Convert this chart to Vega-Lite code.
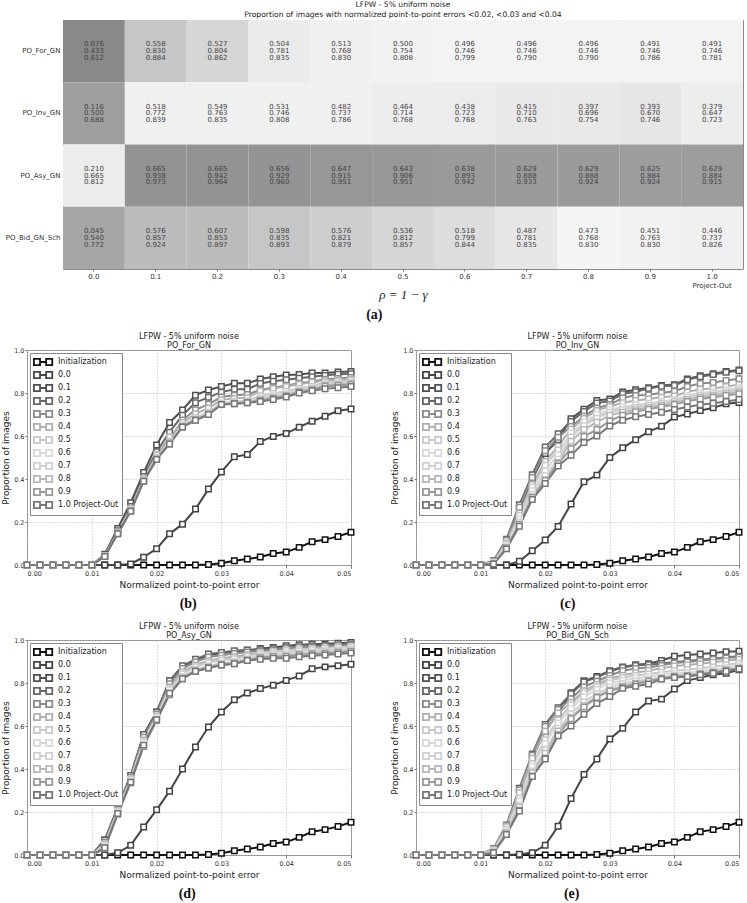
{
  "$schema": "https://vega.github.io/schema/vega-lite/v6.json",
  "background": "white",
  "padding": {"left": 1, "top": 0, "right": 1, "bottom": 0},
  "config": {
    "font": "DejaVu Sans",
    "view": {"stroke": "#8a8a8a", "strokeWidth": 1},
    "axis": {"domain": false, "tickColor": "#777", "tickSize": 3, "labelColor": "#333", "labelFontSize": 6.5, "titleFontWeight": "normal", "titleColor": "#222", "titleFontSize": 9, "labelPadding": 2},
    "title": {"fontWeight": "normal", "fontSize": 8, "color": "#222"},
    "legend": {"orient": "top-left", "offset": 3, "padding": 3, "strokeColor": "#888", "fillColor": "white", "labelFontSize": 8, "labelColor": "#222", "symbolType": "M-1,-0.6H0.2V0.6H-1ZM1.4,-0.6H2.6V0.6H1.4ZM0.2,0H1.4", "symbolSize": 104, "symbolStrokeWidth": 1.8, "symbolFillColor": "white", "rowPadding": -3, "labelOffset": 13, "title": null}
  },
  "datasets": {
    "heat": [
      {"m": "PO_For_GN", "rho": "0.0", "a": 0.076, "b": 0.433, "c": 0.612, "level": 0.91},
      {"m": "PO_For_GN", "rho": "0.1", "a": 0.558, "b": 0.830, "c": 0.884, "level": 0.39},
      {"m": "PO_For_GN", "rho": "0.2", "a": 0.527, "b": 0.804, "c": 0.862, "level": 0.26},
      {"m": "PO_For_GN", "rho": "0.3", "a": 0.504, "b": 0.781, "c": 0.835, "level": 0.09},
      {"m": "PO_For_GN", "rho": "0.4", "a": 0.513, "b": 0.768, "c": 0.830, "level": 0.05},
      {"m": "PO_For_GN", "rho": "0.5", "a": 0.500, "b": 0.754, "c": 0.808, "level": 0.03},
      {"m": "PO_For_GN", "rho": "0.6", "a": 0.496, "b": 0.746, "c": 0.799, "level": 0.02},
      {"m": "PO_For_GN", "rho": "0.7", "a": 0.496, "b": 0.746, "c": 0.790, "level": 0.02},
      {"m": "PO_For_GN", "rho": "0.8", "a": 0.496, "b": 0.746, "c": 0.790, "level": 0.02},
      {"m": "PO_For_GN", "rho": "0.9", "a": 0.491, "b": 0.746, "c": 0.786, "level": 0.02},
      {"m": "PO_For_GN", "rho": "1.0", "a": 0.491, "b": 0.746, "c": 0.781, "level": 0.02},
      {"m": "PO_Inv_GN", "rho": "0.0", "a": 0.116, "b": 0.500, "c": 0.688, "level": 0.72},
      {"m": "PO_Inv_GN", "rho": "0.1", "a": 0.518, "b": 0.772, "c": 0.839, "level": 0.05},
      {"m": "PO_Inv_GN", "rho": "0.2", "a": 0.549, "b": 0.763, "c": 0.835, "level": 0.05},
      {"m": "PO_Inv_GN", "rho": "0.3", "a": 0.531, "b": 0.746, "c": 0.808, "level": 0.05},
      {"m": "PO_Inv_GN", "rho": "0.4", "a": 0.482, "b": 0.737, "c": 0.786, "level": 0.05},
      {"m": "PO_Inv_GN", "rho": "0.5", "a": 0.464, "b": 0.714, "c": 0.768, "level": 0.07},
      {"m": "PO_Inv_GN", "rho": "0.6", "a": 0.438, "b": 0.723, "c": 0.768, "level": 0.08},
      {"m": "PO_Inv_GN", "rho": "0.7", "a": 0.415, "b": 0.710, "c": 0.763, "level": 0.10},
      {"m": "PO_Inv_GN", "rho": "0.8", "a": 0.397, "b": 0.696, "c": 0.754, "level": 0.10},
      {"m": "PO_Inv_GN", "rho": "0.9", "a": 0.393, "b": 0.670, "c": 0.746, "level": 0.13},
      {"m": "PO_Inv_GN", "rho": "1.0", "a": 0.379, "b": 0.647, "c": 0.723, "level": 0.07},
      {"m": "PO_Asy_GN", "rho": "0.0", "a": 0.210, "b": 0.665, "c": 0.812, "level": 0.08},
      {"m": "PO_Asy_GN", "rho": "0.1", "a": 0.665, "b": 0.938, "c": 0.973, "level": 0.82},
      {"m": "PO_Asy_GN", "rho": "0.2", "a": 0.665, "b": 0.942, "c": 0.964, "level": 0.82},
      {"m": "PO_Asy_GN", "rho": "0.3", "a": 0.656, "b": 0.929, "c": 0.960, "level": 0.81},
      {"m": "PO_Asy_GN", "rho": "0.4", "a": 0.647, "b": 0.915, "c": 0.951, "level": 0.79},
      {"m": "PO_Asy_GN", "rho": "0.5", "a": 0.643, "b": 0.906, "c": 0.951, "level": 0.78},
      {"m": "PO_Asy_GN", "rho": "0.6", "a": 0.638, "b": 0.893, "c": 0.942, "level": 0.76},
      {"m": "PO_Asy_GN", "rho": "0.7", "a": 0.629, "b": 0.888, "c": 0.933, "level": 0.75},
      {"m": "PO_Asy_GN", "rho": "0.8", "a": 0.629, "b": 0.888, "c": 0.924, "level": 0.75},
      {"m": "PO_Asy_GN", "rho": "0.9", "a": 0.625, "b": 0.884, "c": 0.924, "level": 0.74},
      {"m": "PO_Asy_GN", "rho": "1.0", "a": 0.629, "b": 0.884, "c": 0.915, "level": 0.74},
      {"m": "PO_Bid_GN_Sch", "rho": "0.0", "a": 0.045, "b": 0.540, "c": 0.772, "level": 0.66},
      {"m": "PO_Bid_GN_Sch", "rho": "0.1", "a": 0.576, "b": 0.857, "c": 0.924, "level": 0.47},
      {"m": "PO_Bid_GN_Sch", "rho": "0.2", "a": 0.607, "b": 0.853, "c": 0.897, "level": 0.47},
      {"m": "PO_Bid_GN_Sch", "rho": "0.3", "a": 0.598, "b": 0.835, "c": 0.893, "level": 0.39},
      {"m": "PO_Bid_GN_Sch", "rho": "0.4", "a": 0.576, "b": 0.821, "c": 0.879, "level": 0.32},
      {"m": "PO_Bid_GN_Sch", "rho": "0.5", "a": 0.536, "b": 0.812, "c": 0.857, "level": 0.26},
      {"m": "PO_Bid_GN_Sch", "rho": "0.6", "a": 0.518, "b": 0.799, "c": 0.844, "level": 0.20},
      {"m": "PO_Bid_GN_Sch", "rho": "0.7", "a": 0.487, "b": 0.781, "c": 0.835, "level": 0.12},
      {"m": "PO_Bid_GN_Sch", "rho": "0.8", "a": 0.473, "b": 0.768, "c": 0.830, "level": 0.01},
      {"m": "PO_Bid_GN_Sch", "rho": "0.9", "a": 0.451, "b": 0.763, "c": 0.830, "level": 0.03},
      {"m": "PO_Bid_GN_Sch", "rho": "1.0", "a": 0.446, "b": 0.737, "c": 0.826, "level": 0.05}
    ],
    "pb": [
      {"x": 0.000, "I": 0, "r00": 0, "r01": 0, "r02": 0, "r03": 0, "r04": 0, "r05": 0, "r06": 0, "r07": 0, "r08": 0, "r09": 0, "r10": 0},
      {"x": 0.002, "I": 0, "r00": 0, "r01": 0, "r02": 0, "r03": 0, "r04": 0, "r05": 0, "r06": 0, "r07": 0, "r08": 0, "r09": 0, "r10": 0},
      {"x": 0.004, "I": 0, "r00": 0, "r01": 0, "r02": 0, "r03": 0, "r04": 0, "r05": 0, "r06": 0, "r07": 0, "r08": 0, "r09": 0, "r10": 0},
      {"x": 0.006, "I": 0, "r00": 0, "r01": 0, "r02": 0, "r03": 0, "r04": 0, "r05": 0, "r06": 0, "r07": 0, "r08": 0, "r09": 0, "r10": 0},
      {"x": 0.008, "I": 0, "r00": 0, "r01": 0, "r02": 0, "r03": 0, "r04": 0, "r05": 0, "r06": 0, "r07": 0, "r08": 0, "r09": 0, "r10": 0},
      {"x": 0.010, "I": 0, "r00": 0, "r01": 0, "r02": 0, "r03": 0, "r04": 0, "r05": 0, "r06": 0, "r07": 0, "r08": 0, "r09": 0, "r10": 0},
      {"x": 0.012, "I": 0, "r00": 0, "r01": 0.05, "r02": 0.046, "r03": 0.042, "r04": 0.043, "r05": 0.041, "r06": 0.041, "r07": 0.041, "r08": 0.041, "r09": 0.04, "r10": 0.04},
      {"x": 0.014, "I": 0, "r00": 0, "r01": 0.17, "r02": 0.159, "r03": 0.15, "r04": 0.153, "r05": 0.148, "r06": 0.147, "r07": 0.147, "r08": 0.147, "r09": 0.145, "r10": 0.145},
      {"x": 0.016, "I": 0, "r00": 0.005, "r01": 0.29, "r02": 0.272, "r03": 0.258, "r04": 0.263, "r05": 0.255, "r06": 0.253, "r07": 0.253, "r08": 0.253, "r09": 0.25, "r10": 0.25},
      {"x": 0.018, "I": 0, "r00": 0.036, "r01": 0.43, "r02": 0.412, "r03": 0.398, "r04": 0.403, "r05": 0.395, "r06": 0.393, "r07": 0.393, "r08": 0.393, "r09": 0.39, "r10": 0.39},
      {"x": 0.020, "I": 0, "r00": 0.076, "r01": 0.558, "r02": 0.527, "r03": 0.504, "r04": 0.513, "r05": 0.5, "r06": 0.496, "r07": 0.496, "r08": 0.496, "r09": 0.491, "r10": 0.491},
      {"x": 0.022, "I": 0, "r00": 0.145, "r01": 0.663, "r02": 0.618, "r03": 0.583, "r04": 0.596, "r05": 0.576, "r06": 0.57, "r07": 0.57, "r08": 0.57, "r09": 0.563, "r10": 0.563},
      {"x": 0.024, "I": 0, "r00": 0.19, "r01": 0.721, "r02": 0.697, "r03": 0.675, "r04": 0.663, "r05": 0.65, "r06": 0.645, "r07": 0.645, "r08": 0.645, "r09": 0.642, "r10": 0.642},
      {"x": 0.026, "I": 0, "r00": 0.26, "r01": 0.79, "r02": 0.755, "r03": 0.722, "r04": 0.703, "r05": 0.685, "r06": 0.677, "r07": 0.677, "r08": 0.677, "r09": 0.673, "r10": 0.673},
      {"x": 0.028, "I": 0.002, "r00": 0.353, "r01": 0.814, "r02": 0.78, "r03": 0.748, "r04": 0.73, "r05": 0.711, "r06": 0.703, "r07": 0.703, "r08": 0.703, "r09": 0.7, "r10": 0.7},
      {"x": 0.030, "I": 0.008, "r00": 0.433, "r01": 0.83, "r02": 0.804, "r03": 0.781, "r04": 0.768, "r05": 0.754, "r06": 0.746, "r07": 0.746, "r08": 0.746, "r09": 0.746, "r10": 0.746},
      {"x": 0.032, "I": 0.02, "r00": 0.503, "r01": 0.845, "r02": 0.817, "r03": 0.79, "r04": 0.775, "r05": 0.76, "r06": 0.752, "r07": 0.752, "r08": 0.752, "r09": 0.75, "r10": 0.75},
      {"x": 0.034, "I": 0.028, "r00": 0.514, "r01": 0.845, "r02": 0.818, "r03": 0.793, "r04": 0.778, "r05": 0.764, "r06": 0.757, "r07": 0.757, "r08": 0.757, "r09": 0.755, "r10": 0.755},
      {"x": 0.036, "I": 0.037, "r00": 0.574, "r01": 0.865, "r02": 0.844, "r03": 0.815, "r04": 0.81, "r05": 0.787, "r06": 0.778, "r07": 0.769, "r08": 0.769, "r09": 0.765, "r10": 0.76},
      {"x": 0.038, "I": 0.053, "r00": 0.598, "r01": 0.876, "r02": 0.855, "r03": 0.825, "r04": 0.821, "r05": 0.798, "r06": 0.788, "r07": 0.78, "r08": 0.78, "r09": 0.775, "r10": 0.77},
      {"x": 0.040, "I": 0.06, "r00": 0.612, "r01": 0.884, "r02": 0.862, "r03": 0.835, "r04": 0.83, "r05": 0.808, "r06": 0.799, "r07": 0.79, "r08": 0.79, "r09": 0.786, "r10": 0.781},
      {"x": 0.042, "I": 0.082, "r00": 0.641, "r01": 0.886, "r02": 0.869, "r03": 0.845, "r04": 0.841, "r05": 0.822, "r06": 0.815, "r07": 0.808, "r08": 0.808, "r09": 0.804, "r10": 0.8},
      {"x": 0.044, "I": 0.108, "r00": 0.669, "r01": 0.893, "r02": 0.876, "r03": 0.853, "r04": 0.85, "r05": 0.832, "r06": 0.824, "r07": 0.817, "r08": 0.817, "r09": 0.814, "r10": 0.81},
      {"x": 0.046, "I": 0.118, "r00": 0.692, "r01": 0.893, "r02": 0.882, "r03": 0.864, "r04": 0.857, "r05": 0.849, "r06": 0.842, "r07": 0.838, "r08": 0.835, "r09": 0.831, "r10": 0.82},
      {"x": 0.048, "I": 0.133, "r00": 0.717, "r01": 0.898, "r02": 0.887, "r03": 0.868, "r04": 0.861, "r05": 0.854, "r06": 0.846, "r07": 0.843, "r08": 0.839, "r09": 0.835, "r10": 0.824},
      {"x": 0.050, "I": 0.152, "r00": 0.726, "r01": 0.9, "r02": 0.89, "r03": 0.872, "r04": 0.865, "r05": 0.858, "r06": 0.851, "r07": 0.848, "r08": 0.844, "r09": 0.84, "r10": 0.83}
    ],
    "pc": [
      {"x": 0.000, "I": 0, "r00": 0, "r01": 0, "r02": 0, "r03": 0, "r04": 0, "r05": 0, "r06": 0, "r07": 0, "r08": 0, "r09": 0, "r10": 0},
      {"x": 0.002, "I": 0, "r00": 0, "r01": 0, "r02": 0, "r03": 0, "r04": 0, "r05": 0, "r06": 0, "r07": 0, "r08": 0, "r09": 0, "r10": 0},
      {"x": 0.004, "I": 0, "r00": 0, "r01": 0, "r02": 0, "r03": 0, "r04": 0, "r05": 0, "r06": 0, "r07": 0, "r08": 0, "r09": 0, "r10": 0},
      {"x": 0.006, "I": 0, "r00": 0, "r01": 0, "r02": 0, "r03": 0, "r04": 0, "r05": 0, "r06": 0, "r07": 0, "r08": 0, "r09": 0, "r10": 0},
      {"x": 0.008, "I": 0, "r00": 0, "r01": 0, "r02": 0, "r03": 0, "r04": 0, "r05": 0, "r06": 0, "r07": 0, "r08": 0, "r09": 0, "r10": 0},
      {"x": 0.010, "I": 0, "r00": 0, "r01": 0, "r02": 0, "r03": 0, "r04": 0, "r05": 0, "r06": 0, "r07": 0, "r08": 0, "r09": 0, "r10": 0},
      {"x": 0.012, "I": 0, "r00": 0, "r01": 0.017, "r02": 0.02, "r03": 0.018, "r04": 0.014, "r05": 0.013, "r06": 0.01, "r07": 0.008, "r08": 0.007, "r09": 0.006, "r10": 0.005},
      {"x": 0.014, "I": 0, "r00": 0, "r01": 0.112, "r02": 0.12, "r03": 0.115, "r04": 0.102, "r05": 0.098, "r06": 0.091, "r07": 0.084, "r08": 0.08, "r09": 0.079, "r10": 0.075},
      {"x": 0.016, "I": 0, "r00": 0.017, "r01": 0.262, "r02": 0.28, "r03": 0.269, "r04": 0.241, "r05": 0.23, "r06": 0.215, "r07": 0.201, "r08": 0.191, "r09": 0.188, "r10": 0.18},
      {"x": 0.018, "I": 0, "r00": 0.066, "r01": 0.399, "r02": 0.42, "r03": 0.407, "r04": 0.375, "r05": 0.363, "r06": 0.345, "r07": 0.329, "r08": 0.318, "r09": 0.314, "r10": 0.305},
      {"x": 0.020, "I": 0, "r00": 0.116, "r01": 0.518, "r02": 0.549, "r03": 0.531, "r04": 0.482, "r05": 0.464, "r06": 0.438, "r07": 0.415, "r08": 0.397, "r09": 0.393, "r10": 0.379},
      {"x": 0.022, "I": 0, "r00": 0.179, "r01": 0.583, "r02": 0.61, "r03": 0.594, "r04": 0.552, "r05": 0.535, "r06": 0.513, "r07": 0.492, "r08": 0.477, "r09": 0.472, "r10": 0.46},
      {"x": 0.024, "I": 0, "r00": 0.284, "r01": 0.68, "r02": 0.668, "r03": 0.644, "r04": 0.632, "r05": 0.602, "r06": 0.614, "r07": 0.595, "r08": 0.576, "r09": 0.541, "r10": 0.51},
      {"x": 0.026, "I": 0, "r00": 0.387, "r01": 0.725, "r02": 0.714, "r03": 0.692, "r04": 0.682, "r05": 0.654, "r06": 0.665, "r07": 0.648, "r08": 0.63, "r09": 0.598, "r10": 0.57},
      {"x": 0.028, "I": 0.002, "r00": 0.418, "r01": 0.765, "r02": 0.753, "r03": 0.73, "r04": 0.719, "r05": 0.689, "r06": 0.701, "r07": 0.683, "r08": 0.664, "r09": 0.63, "r10": 0.6},
      {"x": 0.030, "I": 0.008, "r00": 0.5, "r01": 0.772, "r02": 0.763, "r03": 0.746, "r04": 0.737, "r05": 0.714, "r06": 0.723, "r07": 0.71, "r08": 0.696, "r09": 0.67, "r10": 0.647},
      {"x": 0.032, "I": 0.02, "r00": 0.545, "r01": 0.805, "r02": 0.796, "r03": 0.777, "r04": 0.755, "r05": 0.728, "r06": 0.735, "r07": 0.722, "r08": 0.71, "r09": 0.697, "r10": 0.673},
      {"x": 0.034, "I": 0.028, "r00": 0.583, "r01": 0.815, "r02": 0.806, "r03": 0.789, "r04": 0.765, "r05": 0.74, "r06": 0.745, "r07": 0.733, "r08": 0.722, "r09": 0.713, "r10": 0.69},
      {"x": 0.036, "I": 0.037, "r00": 0.62, "r01": 0.825, "r02": 0.821, "r03": 0.791, "r04": 0.772, "r05": 0.75, "r06": 0.752, "r07": 0.743, "r08": 0.734, "r09": 0.725, "r10": 0.7},
      {"x": 0.038, "I": 0.053, "r00": 0.645, "r01": 0.835, "r02": 0.831, "r03": 0.801, "r04": 0.78, "r05": 0.759, "r06": 0.761, "r07": 0.753, "r08": 0.744, "r09": 0.735, "r10": 0.71},
      {"x": 0.040, "I": 0.06, "r00": 0.688, "r01": 0.839, "r02": 0.835, "r03": 0.808, "r04": 0.786, "r05": 0.768, "r06": 0.768, "r07": 0.763, "r08": 0.754, "r09": 0.746, "r10": 0.723},
      {"x": 0.042, "I": 0.082, "r00": 0.702, "r01": 0.865, "r02": 0.861, "r03": 0.83, "r04": 0.805, "r05": 0.786, "r06": 0.788, "r07": 0.779, "r08": 0.77, "r09": 0.761, "r10": 0.735},
      {"x": 0.044, "I": 0.108, "r00": 0.718, "r01": 0.88, "r02": 0.876, "r03": 0.844, "r04": 0.818, "r05": 0.798, "r06": 0.8, "r07": 0.791, "r08": 0.781, "r09": 0.772, "r10": 0.745},
      {"x": 0.046, "I": 0.118, "r00": 0.731, "r01": 0.89, "r02": 0.886, "r03": 0.849, "r04": 0.821, "r05": 0.804, "r06": 0.806, "r07": 0.798, "r08": 0.788, "r09": 0.78, "r10": 0.752},
      {"x": 0.048, "I": 0.133, "r00": 0.75, "r01": 0.9, "r02": 0.896, "r03": 0.858, "r04": 0.83, "r05": 0.813, "r06": 0.815, "r07": 0.806, "r08": 0.796, "r09": 0.788, "r10": 0.76},
      {"x": 0.050, "I": 0.152, "r00": 0.756, "r01": 0.907, "r02": 0.903, "r03": 0.866, "r04": 0.839, "r05": 0.822, "r06": 0.824, "r07": 0.815, "r08": 0.806, "r09": 0.797, "r10": 0.77}
    ],
    "pd": [
      {"x": 0.000, "I": 0, "r00": 0, "r01": 0, "r02": 0, "r03": 0, "r04": 0, "r05": 0, "r06": 0, "r07": 0, "r08": 0, "r09": 0, "r10": 0},
      {"x": 0.002, "I": 0, "r00": 0, "r01": 0, "r02": 0, "r03": 0, "r04": 0, "r05": 0, "r06": 0, "r07": 0, "r08": 0, "r09": 0, "r10": 0},
      {"x": 0.004, "I": 0, "r00": 0, "r01": 0, "r02": 0, "r03": 0, "r04": 0, "r05": 0, "r06": 0, "r07": 0, "r08": 0, "r09": 0, "r10": 0},
      {"x": 0.006, "I": 0, "r00": 0, "r01": 0, "r02": 0, "r03": 0, "r04": 0, "r05": 0, "r06": 0, "r07": 0, "r08": 0, "r09": 0, "r10": 0},
      {"x": 0.008, "I": 0, "r00": 0, "r01": 0, "r02": 0, "r03": 0, "r04": 0, "r05": 0, "r06": 0, "r07": 0, "r08": 0, "r09": 0, "r10": 0},
      {"x": 0.010, "I": 0, "r00": 0, "r01": 0, "r02": 0, "r03": 0, "r04": 0, "r05": 0, "r06": 0, "r07": 0, "r08": 0, "r09": 0, "r10": 0},
      {"x": 0.012, "I": 0, "r00": 0, "r01": 0.07, "r02": 0.07, "r03": 0.061, "r04": 0.052, "r05": 0.048, "r06": 0.043, "r07": 0.034, "r08": 0.034, "r09": 0.03, "r10": 0.034},
      {"x": 0.014, "I": 0, "r00": 0.01, "r01": 0.22, "r02": 0.22, "r03": 0.213, "r04": 0.207, "r05": 0.204, "r06": 0.2, "r07": 0.193, "r08": 0.193, "r09": 0.19, "r10": 0.193},
      {"x": 0.016, "I": 0, "r00": 0.045, "r01": 0.37, "r02": 0.37, "r03": 0.362, "r04": 0.354, "r05": 0.351, "r06": 0.347, "r07": 0.339, "r08": 0.339, "r09": 0.335, "r10": 0.339},
      {"x": 0.018, "I": 0, "r00": 0.13, "r01": 0.56, "r02": 0.56, "r03": 0.548, "r04": 0.535, "r05": 0.53, "r06": 0.523, "r07": 0.511, "r08": 0.511, "r09": 0.505, "r10": 0.511},
      {"x": 0.020, "I": 0, "r00": 0.21, "r01": 0.665, "r02": 0.665, "r03": 0.656, "r04": 0.647, "r05": 0.643, "r06": 0.638, "r07": 0.629, "r08": 0.629, "r09": 0.625, "r10": 0.629},
      {"x": 0.022, "I": 0, "r00": 0.297, "r01": 0.81, "r02": 0.81, "r03": 0.796, "r04": 0.781, "r05": 0.774, "r06": 0.766, "r07": 0.752, "r08": 0.752, "r09": 0.745, "r10": 0.752},
      {"x": 0.024, "I": 0, "r00": 0.4, "r01": 0.876, "r02": 0.88, "r03": 0.867, "r04": 0.852, "r05": 0.843, "r06": 0.83, "r07": 0.824, "r08": 0.824, "r09": 0.82, "r10": 0.82},
      {"x": 0.026, "I": 0, "r00": 0.502, "r01": 0.906, "r02": 0.91, "r03": 0.898, "r04": 0.884, "r05": 0.876, "r06": 0.864, "r07": 0.859, "r08": 0.859, "r09": 0.855, "r10": 0.855},
      {"x": 0.028, "I": 0.002, "r00": 0.595, "r01": 0.93, "r02": 0.935, "r03": 0.921, "r04": 0.904, "r05": 0.895, "r06": 0.88, "r07": 0.875, "r08": 0.875, "r09": 0.87, "r10": 0.87},
      {"x": 0.030, "I": 0.008, "r00": 0.665, "r01": 0.938, "r02": 0.942, "r03": 0.929, "r04": 0.915, "r05": 0.906, "r06": 0.893, "r07": 0.888, "r08": 0.888, "r09": 0.884, "r10": 0.884},
      {"x": 0.032, "I": 0.02, "r00": 0.722, "r01": 0.946, "r02": 0.95, "r03": 0.937, "r04": 0.922, "r05": 0.913, "r06": 0.9, "r07": 0.894, "r08": 0.894, "r09": 0.89, "r10": 0.89},
      {"x": 0.034, "I": 0.028, "r00": 0.753, "r01": 0.952, "r02": 0.953, "r03": 0.944, "r04": 0.932, "r05": 0.924, "r06": 0.913, "r07": 0.909, "r08": 0.909, "r09": 0.905, "r10": 0.905},
      {"x": 0.036, "I": 0.037, "r00": 0.774, "r01": 0.96, "r02": 0.955, "r03": 0.949, "r04": 0.941, "r05": 0.94, "r06": 0.934, "r07": 0.926, "r08": 0.918, "r09": 0.918, "r10": 0.91},
      {"x": 0.038, "I": 0.053, "r00": 0.79, "r01": 0.965, "r02": 0.959, "r03": 0.954, "r04": 0.946, "r05": 0.945, "r06": 0.939, "r07": 0.931, "r08": 0.923, "r09": 0.923, "r10": 0.915},
      {"x": 0.040, "I": 0.06, "r00": 0.812, "r01": 0.973, "r02": 0.964, "r03": 0.96, "r04": 0.951, "r05": 0.951, "r06": 0.942, "r07": 0.933, "r08": 0.924, "r09": 0.924, "r10": 0.915},
      {"x": 0.042, "I": 0.082, "r00": 0.833, "r01": 0.978, "r02": 0.969, "r03": 0.966, "r04": 0.957, "r05": 0.956, "r06": 0.948, "r07": 0.939, "r08": 0.931, "r09": 0.931, "r10": 0.922},
      {"x": 0.044, "I": 0.108, "r00": 0.866, "r01": 0.98, "r02": 0.972, "r03": 0.968, "r04": 0.96, "r05": 0.959, "r06": 0.952, "r07": 0.943, "r08": 0.935, "r09": 0.935, "r10": 0.927},
      {"x": 0.046, "I": 0.118, "r00": 0.875, "r01": 0.982, "r02": 0.974, "r03": 0.971, "r04": 0.962, "r05": 0.961, "r06": 0.954, "r07": 0.946, "r08": 0.938, "r09": 0.938, "r10": 0.93},
      {"x": 0.048, "I": 0.133, "r00": 0.88, "r01": 0.985, "r02": 0.977, "r03": 0.974, "r04": 0.966, "r05": 0.965, "r06": 0.959, "r07": 0.951, "r08": 0.943, "r09": 0.943, "r10": 0.935},
      {"x": 0.050, "I": 0.152, "r00": 0.887, "r01": 0.988, "r02": 0.98, "r03": 0.977, "r04": 0.97, "r05": 0.969, "r06": 0.963, "r07": 0.955, "r08": 0.948, "r09": 0.948, "r10": 0.94}
    ],
    "pe": [
      {"x": 0.000, "I": 0, "r00": 0, "r01": 0, "r02": 0, "r03": 0, "r04": 0, "r05": 0, "r06": 0, "r07": 0, "r08": 0, "r09": 0, "r10": 0},
      {"x": 0.002, "I": 0, "r00": 0, "r01": 0, "r02": 0, "r03": 0, "r04": 0, "r05": 0, "r06": 0, "r07": 0, "r08": 0, "r09": 0, "r10": 0},
      {"x": 0.004, "I": 0, "r00": 0, "r01": 0, "r02": 0, "r03": 0, "r04": 0, "r05": 0, "r06": 0, "r07": 0, "r08": 0, "r09": 0, "r10": 0},
      {"x": 0.006, "I": 0, "r00": 0, "r01": 0, "r02": 0, "r03": 0, "r04": 0, "r05": 0, "r06": 0, "r07": 0, "r08": 0, "r09": 0, "r10": 0},
      {"x": 0.008, "I": 0, "r00": 0, "r01": 0, "r02": 0, "r03": 0, "r04": 0, "r05": 0, "r06": 0, "r07": 0, "r08": 0, "r09": 0, "r10": 0},
      {"x": 0.010, "I": 0, "r00": 0, "r01": 0, "r02": 0, "r03": 0, "r04": 0, "r05": 0, "r06": 0, "r07": 0, "r08": 0, "r09": 0, "r10": 0},
      {"x": 0.012, "I": 0, "r00": 0, "r01": 0.026, "r02": 0.03, "r03": 0.029, "r04": 0.026, "r05": 0.021, "r06": 0.019, "r07": 0.015, "r08": 0.013, "r09": 0.011, "r10": 0.01},
      {"x": 0.014, "I": 0, "r00": 0, "r01": 0.131, "r02": 0.14, "r03": 0.137, "r04": 0.131, "r05": 0.12, "r06": 0.115, "r07": 0.106, "r08": 0.103, "r09": 0.096, "r10": 0.095},
      {"x": 0.016, "I": 0, "r00": 0.003, "r01": 0.29, "r02": 0.31, "r03": 0.304, "r04": 0.29, "r05": 0.264, "r06": 0.252, "r07": 0.231, "r08": 0.223, "r09": 0.208, "r10": 0.205},
      {"x": 0.018, "I": 0, "r00": 0.01, "r01": 0.45, "r02": 0.47, "r03": 0.464, "r04": 0.45, "r05": 0.424, "r06": 0.412, "r07": 0.391, "r08": 0.383, "r09": 0.368, "r10": 0.365},
      {"x": 0.020, "I": 0, "r00": 0.045, "r01": 0.576, "r02": 0.607, "r03": 0.598, "r04": 0.576, "r05": 0.536, "r06": 0.518, "r07": 0.487, "r08": 0.473, "r09": 0.451, "r10": 0.446},
      {"x": 0.022, "I": 0, "r00": 0.134, "r01": 0.66, "r02": 0.685, "r03": 0.677, "r04": 0.66, "r05": 0.628, "r06": 0.614, "r07": 0.588, "r08": 0.577, "r09": 0.559, "r10": 0.555},
      {"x": 0.024, "I": 0, "r00": 0.263, "r01": 0.755, "r02": 0.75, "r03": 0.727, "r04": 0.709, "r05": 0.698, "r06": 0.681, "r07": 0.657, "r08": 0.64, "r09": 0.634, "r10": 0.6},
      {"x": 0.026, "I": 0, "r00": 0.374, "r01": 0.81, "r02": 0.805, "r03": 0.782, "r04": 0.764, "r05": 0.753, "r06": 0.736, "r07": 0.712, "r08": 0.695, "r09": 0.689, "r10": 0.655},
      {"x": 0.028, "I": 0.002, "r00": 0.447, "r01": 0.83, "r02": 0.826, "r03": 0.808, "r04": 0.793, "r05": 0.784, "r06": 0.77, "r07": 0.751, "r08": 0.738, "r09": 0.733, "r10": 0.705},
      {"x": 0.030, "I": 0.008, "r00": 0.54, "r01": 0.857, "r02": 0.853, "r03": 0.835, "r04": 0.821, "r05": 0.812, "r06": 0.799, "r07": 0.781, "r08": 0.768, "r09": 0.763, "r10": 0.737},
      {"x": 0.032, "I": 0.02, "r00": 0.589, "r01": 0.875, "r02": 0.872, "r03": 0.857, "r04": 0.835, "r05": 0.825, "r06": 0.812, "r07": 0.797, "r08": 0.785, "r09": 0.78, "r10": 0.775},
      {"x": 0.034, "I": 0.028, "r00": 0.665, "r01": 0.885, "r02": 0.882, "r03": 0.867, "r04": 0.848, "r05": 0.835, "r06": 0.822, "r07": 0.808, "r08": 0.798, "r09": 0.795, "r10": 0.785},
      {"x": 0.036, "I": 0.037, "r00": 0.716, "r01": 0.89, "r02": 0.885, "r03": 0.872, "r04": 0.858, "r05": 0.842, "r06": 0.83, "r07": 0.818, "r08": 0.81, "r09": 0.808, "r10": 0.795},
      {"x": 0.038, "I": 0.053, "r00": 0.725, "r01": 0.905, "r02": 0.891, "r03": 0.882, "r04": 0.868, "r05": 0.85, "r06": 0.838, "r07": 0.827, "r08": 0.821, "r09": 0.82, "r10": 0.818},
      {"x": 0.040, "I": 0.06, "r00": 0.772, "r01": 0.924, "r02": 0.897, "r03": 0.893, "r04": 0.879, "r05": 0.857, "r06": 0.844, "r07": 0.835, "r08": 0.83, "r09": 0.83, "r10": 0.826},
      {"x": 0.042, "I": 0.082, "r00": 0.811, "r01": 0.93, "r02": 0.902, "r03": 0.898, "r04": 0.884, "r05": 0.862, "r06": 0.848, "r07": 0.839, "r08": 0.834, "r09": 0.834, "r10": 0.83},
      {"x": 0.044, "I": 0.108, "r00": 0.825, "r01": 0.935, "r02": 0.908, "r03": 0.904, "r04": 0.89, "r05": 0.869, "r06": 0.855, "r07": 0.847, "r08": 0.842, "r09": 0.842, "r10": 0.838},
      {"x": 0.046, "I": 0.118, "r00": 0.838, "r01": 0.94, "r02": 0.913, "r03": 0.91, "r04": 0.896, "r05": 0.875, "r06": 0.862, "r07": 0.854, "r08": 0.849, "r09": 0.849, "r10": 0.845},
      {"x": 0.048, "I": 0.133, "r00": 0.845, "r01": 0.945, "r02": 0.92, "r03": 0.916, "r04": 0.904, "r05": 0.884, "r06": 0.871, "r07": 0.863, "r08": 0.859, "r09": 0.859, "r10": 0.855},
      {"x": 0.050, "I": 0.152, "r00": 0.861, "r01": 0.948, "r02": 0.925, "r03": 0.921, "r04": 0.91, "r05": 0.892, "r06": 0.88, "r07": 0.872, "r08": 0.868, "r09": 0.868, "r10": 0.865}
    ]
  },
  "vconcat": [
    {
      "title": {"text": "(a)", "orient": "bottom", "anchor": "middle", "font": "Liberation Serif", "fontWeight": "bold", "fontSize": 14, "color": "#111", "offset": 6},
      "hconcat": [
        {
          "width": 33,
          "height": 249,
          "view": {"stroke": null},
          "data": {"name": "heat"},
          "mark": {"type": "rect", "opacity": 0},
          "encoding": {
            "y": {"field": "m", "type": "nominal", "sort": ["PO_For_GN", "PO_Inv_GN", "PO_Asy_GN", "PO_Bid_GN_Sch"], "title": null, "axis": {"orient": "right", "labelAlign": "right", "labelPadding": 0, "ticks": false, "labelFontSize": 7, "labelColor": "#333"}}
          }
        },
        {
          "width": 680,
          "height": 249,
          "title": {"text": ["LFPW - 5% uniform noise", "Proportion of images with normalized point-to-point errors <0.02, <0.03 and <0.04"], "fontSize": 7.6, "lineHeight": 10, "offset": 1},
          "data": {"name": "heat"},
          "encoding": {
            "x": {"field": "rho", "type": "ordinal", "title": "ρ = 1 − γ", "axis": {"labelAngle": 0, "labelFontSize": 7, "tickSize": 2, "labelPadding": 1, "labelExpr": "datum.label == '1.0' ? ['1.0', 'Project-Out'] : datum.label", "titleFont": "Liberation Serif", "titleFontStyle": "italic", "titleFontSize": 13, "titlePadding": 0, "titleColor": "#222", "labelLineHeight": 9}},
            "y": {"field": "m", "type": "nominal", "sort": ["PO_For_GN", "PO_Inv_GN", "PO_Asy_GN", "PO_Bid_GN_Sch"], "title": null, "axis": null}
          },
          "layer": [
            {"mark": {"type": "rect"}, "encoding": {"fill": {"field": "level", "type": "quantitative", "scale": {"domain": [0, 1], "range": ["#f6f6f6", "#7f7f7f"]}, "legend": null}}},
            {"mark": {"type": "text", "dy": -6.7, "fontSize": 7, "color": "#444"}, "encoding": {"text": {"field": "a", "type": "quantitative", "format": ".3f"}}},
            {"mark": {"type": "text", "dy": 0, "fontSize": 7, "color": "#444"}, "encoding": {"text": {"field": "b", "type": "quantitative", "format": ".3f"}}},
            {"mark": {"type": "text", "dy": 6.7, "fontSize": 7, "color": "#444"}, "encoding": {"text": {"field": "c", "type": "quantitative", "format": ".3f"}}}
          ]
        }
      ],
      "spacing": 2,
      "resolve": {"scale": {"fill": "independent"}, "legend": {"fill": "independent"}}
    },
    {
      "vconcat": [
        {
          "hconcat": [
            {
              "title": {"text": "(b)", "orient": "bottom", "anchor": "middle", "dx": 9, "font": "Liberation Serif", "fontWeight": "bold", "fontSize": 14, "color": "#111", "offset": 7},
              "vconcat": [
                {
                  "width": 324, "height": 215,
                  "title": {"text": ["LFPW - 5% uniform noise", "PO_For_GN"], "lineHeight": 9, "offset": -3},
                  "data": {"name": "pb"},
                  "transform": [{"fold": ["I", "r00", "r01", "r02", "r03", "r04", "r05", "r06", "r07", "r08", "r09", "r10"], "as": ["s", "y"]}],
                  "mark": {"type": "line", "strokeWidth": 2, "point": {"shape": "square", "filled": false, "fill": "white", "size": 30, "strokeWidth": 1.5}},
                  "encoding": {
                    "x": {"field": "x", "type": "quantitative", "scale": {"domain": [0, 0.05], "nice": false}, "axis": {"values": [0, 0.01, 0.02, 0.03, 0.04, 0.05], "format": ".2f", "title": "Normalized point-to-point error", "grid": true, "gridDash": [1, 2], "gridColor": "#bbb"}},
                    "y": {"field": "y", "type": "quantitative", "scale": {"domain": [0, 1], "nice": false}, "axis": {"values": [0, 0.2, 0.4, 0.6, 0.8, 1.0], "format": ".1f", "title": "Proportion of images", "grid": true, "gridDash": [1, 2], "gridColor": "#bbb", "titlePadding": 3, "labelPadding": 1, "tickSize": 2}},
                    "color": {"field": "s", "type": "nominal", "scale": {"domain": ["I", "r00", "r01", "r02", "r03", "r04", "r05", "r06", "r07", "r08", "r09", "r10"], "range": ["#111111", "#444444", "#505050", "#666666", "#8c8c8c", "#b0b0b0", "#c8c8c8", "#d8d8d8", "#d0d0d0", "#b8b8b8", "#999999", "#777777"]}, "legend": {"labelExpr": "datum.label == 'I' ? 'Initialization' : datum.label == 'r10' ? '1.0 Project-Out' : '0.' + substring(datum.label, 2, 3)"}}
                  }
                }
              ]
            },
            {
              "title": {"text": "(c)", "orient": "bottom", "anchor": "middle", "dx": 0, "font": "Liberation Serif", "fontWeight": "bold", "fontSize": 14, "color": "#111", "offset": 7},
              "vconcat": [
                {
                  "width": 323, "height": 215,
                  "title": {"text": ["LFPW - 5% uniform noise", "PO_Inv_GN"], "lineHeight": 9, "offset": -3},
                  "data": {"name": "pc"},
                  "transform": [{"fold": ["I", "r00", "r01", "r02", "r03", "r04", "r05", "r06", "r07", "r08", "r09", "r10"], "as": ["s", "y"]}],
                  "mark": {"type": "line", "strokeWidth": 2, "point": {"shape": "square", "filled": false, "fill": "white", "size": 30, "strokeWidth": 1.5}},
                  "encoding": {
                    "x": {"field": "x", "type": "quantitative", "scale": {"domain": [0, 0.05], "nice": false}, "axis": {"values": [0, 0.01, 0.02, 0.03, 0.04, 0.05], "format": ".2f", "title": "Normalized point-to-point error", "grid": true, "gridDash": [1, 2], "gridColor": "#bbb"}},
                    "y": {"field": "y", "type": "quantitative", "scale": {"domain": [0, 1], "nice": false}, "axis": {"values": [0, 0.2, 0.4, 0.6, 0.8, 1.0], "format": ".1f", "title": "Proportion of images", "grid": true, "gridDash": [1, 2], "gridColor": "#bbb", "titlePadding": 3, "labelPadding": 1, "tickSize": 2}},
                    "color": {"field": "s", "type": "nominal", "scale": {"domain": ["I", "r00", "r01", "r02", "r03", "r04", "r05", "r06", "r07", "r08", "r09", "r10"], "range": ["#111111", "#444444", "#505050", "#666666", "#8c8c8c", "#b0b0b0", "#c8c8c8", "#d8d8d8", "#d0d0d0", "#b8b8b8", "#999999", "#777777"]}, "legend": {"labelExpr": "datum.label == 'I' ? 'Initialization' : datum.label == 'r10' ? '1.0 Project-Out' : '0.' + substring(datum.label, 2, 3)"}}
                  }
                }
              ]
            }
          ],
          "spacing": 32,
          "resolve": {"scale": {"color": "independent"}, "legend": {"color": "independent"}}
        },
        {
          "hconcat": [
            {
              "title": {"text": "(d)", "orient": "bottom", "anchor": "middle", "dx": 8, "font": "Liberation Serif", "fontWeight": "bold", "fontSize": 14, "color": "#111", "offset": 7},
              "vconcat": [
                {
                  "width": 324, "height": 215,
                  "title": {"text": ["LFPW - 5% uniform noise", "PO_Asy_GN"], "lineHeight": 9, "offset": -3},
                  "data": {"name": "pd"},
                  "transform": [{"fold": ["I", "r00", "r01", "r02", "r03", "r04", "r05", "r06", "r07", "r08", "r09", "r10"], "as": ["s", "y"]}],
                  "mark": {"type": "line", "strokeWidth": 2, "point": {"shape": "square", "filled": false, "fill": "white", "size": 30, "strokeWidth": 1.5}},
                  "encoding": {
                    "x": {"field": "x", "type": "quantitative", "scale": {"domain": [0, 0.05], "nice": false}, "axis": {"values": [0, 0.01, 0.02, 0.03, 0.04, 0.05], "format": ".2f", "title": "Normalized point-to-point error", "grid": true, "gridDash": [1, 2], "gridColor": "#bbb"}},
                    "y": {"field": "y", "type": "quantitative", "scale": {"domain": [0, 1], "nice": false}, "axis": {"values": [0, 0.2, 0.4, 0.6, 0.8, 1.0], "format": ".1f", "title": "Proportion of images", "grid": true, "gridDash": [1, 2], "gridColor": "#bbb", "titlePadding": 3, "labelPadding": 1, "tickSize": 2}},
                    "color": {"field": "s", "type": "nominal", "scale": {"domain": ["I", "r00", "r01", "r02", "r03", "r04", "r05", "r06", "r07", "r08", "r09", "r10"], "range": ["#111111", "#444444", "#505050", "#666666", "#8c8c8c", "#b0b0b0", "#c8c8c8", "#d8d8d8", "#d0d0d0", "#b8b8b8", "#999999", "#777777"]}, "legend": {"labelExpr": "datum.label == 'I' ? 'Initialization' : datum.label == 'r10' ? '1.0 Project-Out' : '0.' + substring(datum.label, 2, 3)"}}
                  }
                }
              ]
            },
            {
              "title": {"text": "(e)", "orient": "bottom", "anchor": "middle", "dx": 4, "font": "Liberation Serif", "fontWeight": "bold", "fontSize": 14, "color": "#111", "offset": 7},
              "vconcat": [
                {
                  "width": 323, "height": 215,
                  "title": {"text": ["LFPW - 5% uniform noise", "PO_Bid_GN_Sch"], "lineHeight": 9, "offset": -3},
                  "data": {"name": "pe"},
                  "transform": [{"fold": ["I", "r00", "r01", "r02", "r03", "r04", "r05", "r06", "r07", "r08", "r09", "r10"], "as": ["s", "y"]}],
                  "mark": {"type": "line", "strokeWidth": 2, "point": {"shape": "square", "filled": false, "fill": "white", "size": 30, "strokeWidth": 1.5}},
                  "encoding": {
                    "x": {"field": "x", "type": "quantitative", "scale": {"domain": [0, 0.05], "nice": false}, "axis": {"values": [0, 0.01, 0.02, 0.03, 0.04, 0.05], "format": ".2f", "title": "Normalized point-to-point error", "grid": true, "gridDash": [1, 2], "gridColor": "#bbb"}},
                    "y": {"field": "y", "type": "quantitative", "scale": {"domain": [0, 1], "nice": false}, "axis": {"values": [0, 0.2, 0.4, 0.6, 0.8, 1.0], "format": ".1f", "title": "Proportion of images", "grid": true, "gridDash": [1, 2], "gridColor": "#bbb", "titlePadding": 3, "labelPadding": 1, "tickSize": 2}},
                    "color": {"field": "s", "type": "nominal", "scale": {"domain": ["I", "r00", "r01", "r02", "r03", "r04", "r05", "r06", "r07", "r08", "r09", "r10"], "range": ["#111111", "#444444", "#505050", "#666666", "#8c8c8c", "#b0b0b0", "#c8c8c8", "#d8d8d8", "#d0d0d0", "#b8b8b8", "#999999", "#777777"]}, "legend": {"labelExpr": "datum.label == 'I' ? 'Initialization' : datum.label == 'r10' ? '1.0 Project-Out' : '0.' + substring(datum.label, 2, 3)"}}
                  }
                }
              ]
            }
          ],
          "spacing": 32,
          "resolve": {"scale": {"color": "independent"}, "legend": {"color": "independent"}}
        }
      ],
      "spacing": 11,
      "resolve": {"scale": {"color": "independent"}, "legend": {"color": "independent"}}
    }
  ],
  "spacing": 10,
  "resolve": {"scale": {"color": "independent", "fill": "independent"}, "legend": {"color": "independent", "fill": "independent"}}
}
